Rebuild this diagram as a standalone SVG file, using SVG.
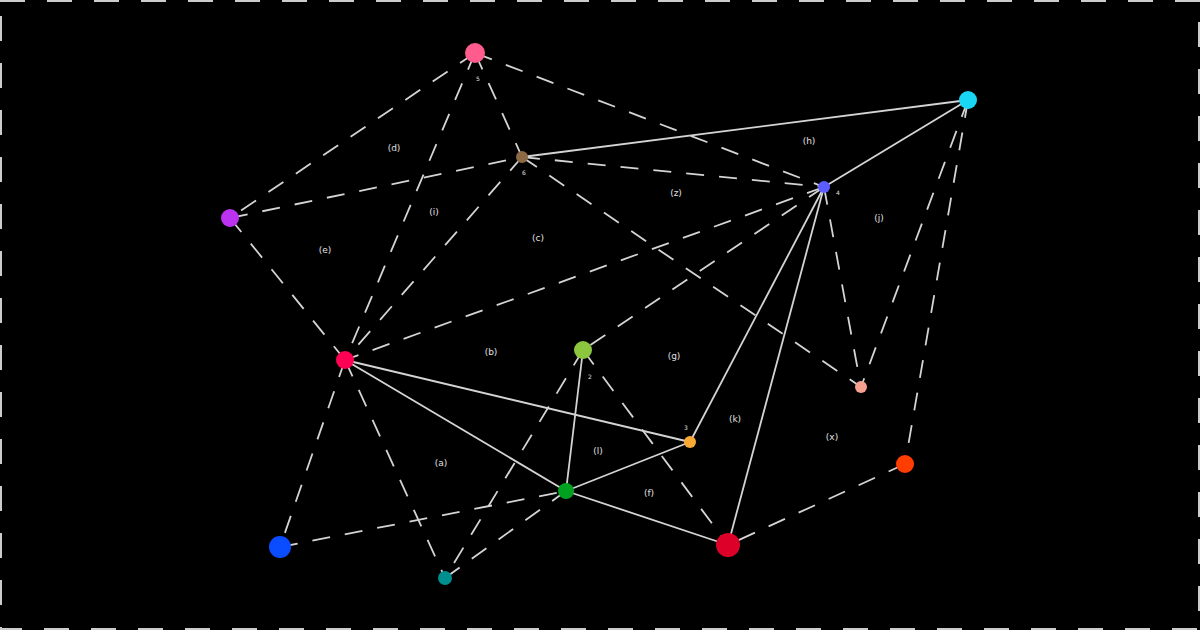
<svg xmlns="http://www.w3.org/2000/svg" width="1200" height="630" viewBox="0 0 1200 630">
<style>
.e{stroke:#d4d4d4;stroke-width:1.8;fill:none}
.d{stroke-dasharray:18 15}
.f{font-family:"DejaVu Sans","Liberation Sans",sans-serif;font-size:9px;fill:#e0e0e0;text-anchor:middle}
.n{font-family:"DejaVu Sans","Liberation Sans",sans-serif;font-size:6px;fill:#e0e0e0;text-anchor:middle}
</style>
<rect x="0" y="0" width="1200" height="630" fill="#000"/>
<rect x="0" y="0" width="1200" height="630" fill="none" stroke="#cccccc" stroke-width="4" stroke-dasharray="25 22"/>
<g id="connectors">
<line class="e" x1="522" y1="157" x2="968" y2="100"/>
<line class="e" x1="968" y1="100" x2="824" y2="187"/>
<line class="e" x1="824" y1="187" x2="690" y2="442"/>
<line class="e" x1="824" y1="187" x2="728" y2="545"/>
<line class="e" x1="345" y1="360" x2="690" y2="442"/>
<line class="e" x1="345" y1="360" x2="566" y2="491"/>
<line class="e" x1="583" y1="350" x2="566" y2="491"/>
<line class="e" x1="566" y1="491" x2="690" y2="442"/>
<line class="e" x1="566" y1="491" x2="728" y2="545"/>
<line class="e d" x1="475" y1="53" x2="230" y2="218"/>
<line class="e d" x1="475" y1="53" x2="345" y2="360"/>
<line class="e d" x1="475" y1="53" x2="522" y2="157"/>
<line class="e d" x1="475" y1="53" x2="824" y2="187"/>
<line class="e d" x1="230" y1="218" x2="522" y2="157"/>
<line class="e d" x1="230" y1="218" x2="345" y2="360"/>
<line class="e d" x1="522" y1="157" x2="345" y2="360"/>
<line class="e d" x1="522" y1="157" x2="824" y2="187"/>
<line class="e d" x1="522" y1="157" x2="861" y2="387"/>
<line class="e d" x1="824" y1="187" x2="345" y2="360"/>
<line class="e d" x1="824" y1="187" x2="583" y2="350"/>
<line class="e d" x1="824" y1="187" x2="861" y2="387"/>
<line class="e d" x1="968" y1="100" x2="861" y2="387"/>
<line class="e d" x1="968" y1="100" x2="905" y2="464"/>
<line class="e d" x1="905" y1="464" x2="728" y2="545"/>
<line class="e d" x1="345" y1="360" x2="280" y2="547"/>
<line class="e d" x1="345" y1="360" x2="445" y2="578"/>
<line class="e d" x1="583" y1="350" x2="445" y2="578"/>
<line class="e d" x1="583" y1="350" x2="728" y2="545"/>
<line class="e d" x1="280" y1="547" x2="566" y2="491"/>
<line class="e d" x1="445" y1="578" x2="566" y2="491"/>
</g>
<g id="n5"><circle cx="475" cy="53" r="10" fill="#ff5c8d"/><text class="n" x="478" y="81">5</text></g>
<g id="n6"><circle cx="522" cy="157" r="6" fill="#8b6a45"/><text class="n" x="524" y="175">6</text></g>
<g id="n4"><circle cx="824" cy="187" r="6" fill="#5c5cff"/><text class="n" x="838" y="195">4</text></g>
<g id="ncyan"><circle cx="968" cy="100" r="9" fill="#1ad6f5"/></g>
<g id="npurple"><circle cx="230" cy="218" r="9" fill="#bb33f0"/></g>
<g id="nred"><circle cx="345" cy="360" r="9" fill="#ff0055"/></g>
<g id="n2"><circle cx="583" cy="350" r="9" fill="#8cc63f"/><text class="n" x="590" y="379">2</text></g>
<g id="n3"><circle cx="690" cy="442" r="6" fill="#f8a835"/><text class="n" x="686" y="430">3</text></g>
<g id="nsalmon"><circle cx="861" cy="387" r="6" fill="#f6a090"/></g>
<g id="norange"><circle cx="905" cy="464" r="9" fill="#ff3d00"/></g>
<g id="ngreen"><circle cx="566" cy="491" r="8" fill="#00a020"/></g>
<g id="ncrimson"><circle cx="728" cy="545" r="12" fill="#dd0028"/></g>
<g id="nblue"><circle cx="280" cy="547" r="11" fill="#0a4cff"/></g>
<g id="nteal"><circle cx="445" cy="578" r="7" fill="#008f8f"/></g>
<g id="faces">
<text class="f" x="394" y="151">(d)</text>
<text class="f" x="434" y="215">(i)</text>
<text class="f" x="325" y="253">(e)</text>
<text class="f" x="538" y="241">(c)</text>
<text class="f" x="676" y="196">(z)</text>
<text class="f" x="809" y="144">(h)</text>
<text class="f" x="879" y="221">(j)</text>
<text class="f" x="491" y="355">(b)</text>
<text class="f" x="674" y="359">(g)</text>
<text class="f" x="735" y="422">(k)</text>
<text class="f" x="832" y="440">(x)</text>
<text class="f" x="598" y="454">(l)</text>
<text class="f" x="441" y="466">(a)</text>
<text class="f" x="649" y="496">(f)</text>
</g>
</svg>
